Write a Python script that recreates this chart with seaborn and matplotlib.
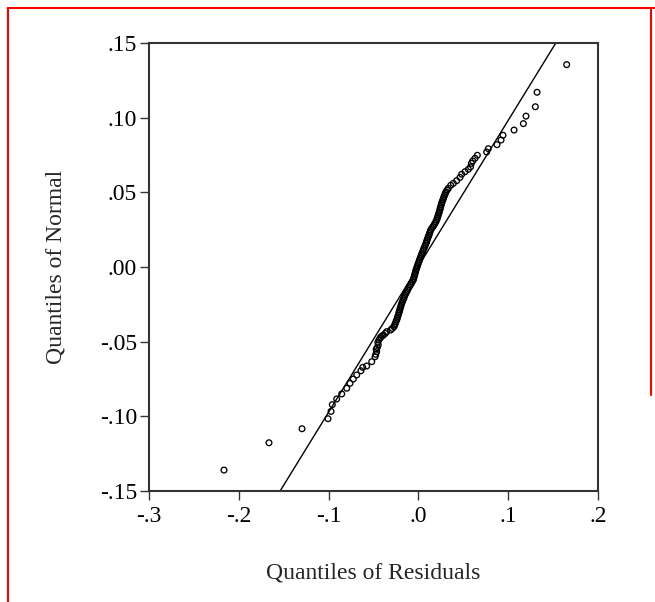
import matplotlib
matplotlib.use('Agg')
import matplotlib.pyplot as plt
import seaborn as sns
import pandas as pd
from matplotlib.lines import Line2D

# quantiles (x = residual quantiles, y = normal quantiles)
resid_q = [
    -0.2165, -0.1664, -0.1296, -0.1007, -0.0973, -0.0959, -0.0910, -0.0854,
    -0.0798, -0.0762, -0.0725, -0.0687, -0.0640, -0.0620, -0.0576, -0.0520,
    -0.0483, -0.0475, -0.0465, -0.0470, -0.0458, -0.0447, -0.0452, -0.0440,
    -0.0428, -0.0420, -0.0405, -0.0390, -0.0370, -0.0353,
    # dense middle
    -0.0309, -0.0290, -0.0272, -0.0265, -0.0257, -0.0250, -0.0242, -0.0236,
    -0.0230, -0.0225, -0.0219, -0.0213, -0.0208, -0.0203, -0.0197, -0.0191,
    -0.0186, -0.0179, -0.0171, -0.0164, -0.0156, -0.0149, -0.0140, -0.0131,
    -0.0121, -0.0112, -0.0101, -0.0090, -0.0079, -0.0068, -0.0057, -0.0052,
    -0.0047, -0.0042, -0.0037, -0.0032, -0.0027, -0.0021, -0.0014, -0.0008,
    -0.0001, 0.0006, 0.0012, 0.0019, 0.0026, 0.0033, 0.0040, 0.0048,
    0.0055, 0.0062, 0.0070, 0.0077, 0.0085, 0.0091, 0.0097, 0.0104,
    0.0110, 0.0117, 0.0124, 0.0130, 0.0137, 0.0149, 0.0162, 0.0174,
    0.0184, 0.0194, 0.0204, 0.0210, 0.0215, 0.0221, 0.0227, 0.0233,
    0.0238, 0.0243, 0.0248, 0.0254, 0.0259, 0.0265, 0.0272, 0.0279,
    0.0285, 0.0292, 0.0300, 0.0307, 0.0320, 0.0333,
    # upper tail
    0.0360, 0.0389, 0.0426, 0.0463, 0.0482, 0.0519, 0.0556, 0.0580,
    0.0590, 0.0605, 0.0630, 0.0656, 0.0760, 0.0778, 0.0875, 0.0920,
    0.0942, 0.1065, 0.1169, 0.1198, 0.1302, 0.1321, 0.1651,
]
normal_q = [
    -0.1360, -0.1177, -0.1083, -0.1016, -0.0967, -0.0922, -0.0884, -0.0850,
    -0.0812, -0.0779, -0.0750, -0.0723, -0.0695, -0.0672, -0.0663, -0.0634,
    -0.0601, -0.0585, -0.0567, -0.0550, -0.0540, -0.0522, -0.0505, -0.0490,
    -0.0478, -0.0470, -0.0462, -0.0456, -0.0445, -0.0433,
    # dense middle
    -0.0422, -0.0411, -0.0400, -0.0389, -0.0378, -0.0366, -0.0355, -0.0344,
    -0.0333, -0.0322, -0.0310, -0.0299, -0.0288, -0.0277, -0.0265, -0.0254,
    -0.0243, -0.0232, -0.0221, -0.0210, -0.0199, -0.0188, -0.0177, -0.0166,
    -0.0155, -0.0143, -0.0132, -0.0121, -0.0110, -0.0098, -0.0087, -0.0076,
    -0.0065, -0.0054, -0.0043, -0.0031, -0.0020, -0.0009, 0.0002, 0.0014,
    0.0025, 0.0036, 0.0047, 0.0058, 0.0069, 0.0080, 0.0091, 0.0103,
    0.0114, 0.0125, 0.0136, 0.0147, 0.0159, 0.0170, 0.0181, 0.0192,
    0.0203, 0.0214, 0.0225, 0.0236, 0.0248, 0.0259, 0.0270, 0.0281,
    0.0292, 0.0303, 0.0315, 0.0326, 0.0337, 0.0348, 0.0359, 0.0370,
    0.0381, 0.0393, 0.0404, 0.0416, 0.0427, 0.0438, 0.0449, 0.0460,
    0.0471, 0.0482, 0.0493, 0.0504, 0.0515, 0.0527,
    # upper tail
    0.0547, 0.0560, 0.0578, 0.0600, 0.0621, 0.0638, 0.0654, 0.0670,
    0.0694, 0.0710, 0.0728, 0.0748, 0.0770, 0.0792, 0.0819, 0.0850,
    0.0882, 0.0917, 0.0960, 0.1010, 0.1073, 0.1170, 0.1355,
]

# reference line end points
line_x = [-0.154, 0.153]
line_y = [-0.15, 0.15]

x_ticks = [-0.3, -0.2, -0.1, 0.0, 0.1, 0.2]
x_labels = ['-.3', '-.2', '-.1', '.0', '.1', '.2']
y_ticks = [-0.15, -0.10, -0.05, 0.00, 0.05, 0.10, 0.15]
y_labels = ['-.15', '-.10', '-.05', '.00', '.05', '.10', '.15']

df = pd.DataFrame({'resid': resid_q, 'normal': normal_q})
line_df = pd.DataFrame({'x': line_x, 'y': line_y})

sns.set_style('ticks')
plt.rcParams['font.family'] = ['Liberation Serif', 'DejaVu Serif']

fig = plt.figure(figsize=(6.55, 6.02), dpi=100)
ax = fig.add_axes([0.2275, 0.1844, 0.6855, 0.7442])

sns.lineplot(data=line_df, x='x', y='y', ax=ax, color='black', linewidth=1.0)
sns.scatterplot(data=df, x='resid', y='normal', ax=ax, marker='o',
                facecolor='none', edgecolor='black', linewidth=0.95, s=17)

ax.set_xlim(-0.3, 0.2)
ax.set_ylim(-0.15, 0.15)
ax.set_xticks(x_ticks)
ax.set_xticklabels(x_labels)
ax.set_yticks(y_ticks)
ax.set_yticklabels(y_labels)
ax.tick_params(direction='out', length=6.5, width=1, colors='#333333',
               labelcolor='black', labelsize=17, pad=2)
ax.tick_params(axis='x', pad=4)
for s in ax.spines.values():
    s.set_visible(True)
    s.set_color('#333333')
    s.set_linewidth(1.5)

ax.set_xlabel('Quantiles of Residuals', fontsize=17, labelpad=26)
ax.set_ylabel('Quantiles of Normal', fontsize=17, labelpad=24)

# red frame around the graph
red = '#ff0000'
fig.add_artist(Line2D([8 / 655, 8 / 655], [0, 1 - 8 / 602], color=red, lw=1.5))
fig.add_artist(Line2D([8 / 655, 1], [1 - 8 / 602, 1 - 8 / 602], color=red, lw=1.5))
fig.add_artist(Line2D([651 / 655, 651 / 655], [1 - 395 / 602, 1 - 8 / 602], color=red, lw=1.5))

plt.savefig('out.png', dpi=100)
plt.close()
